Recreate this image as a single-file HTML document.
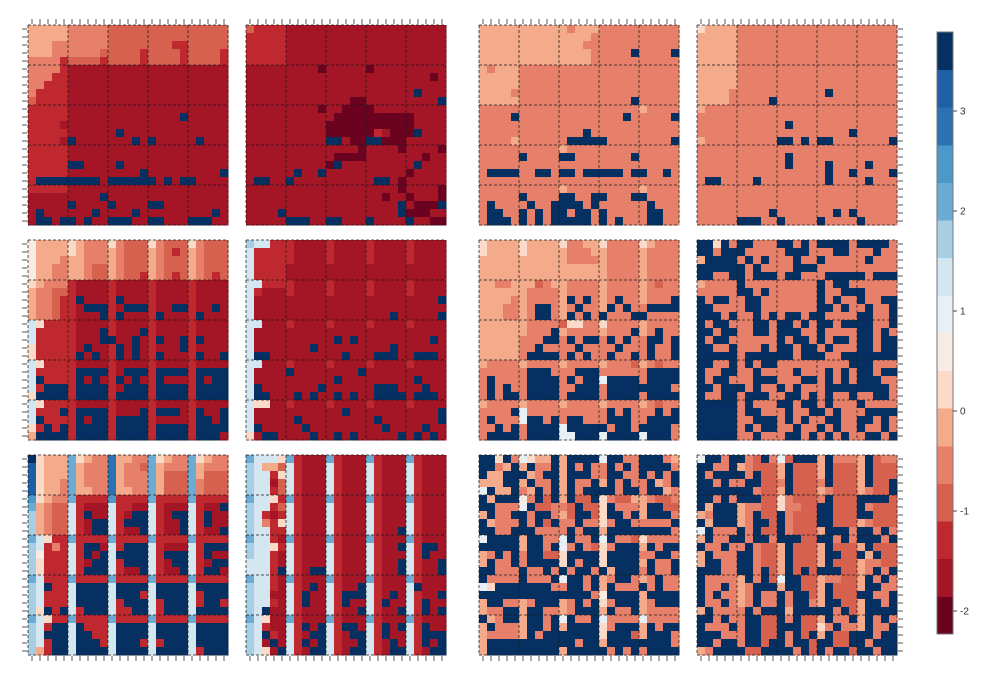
<!DOCTYPE html>
<html><head><meta charset="utf-8"><style>
html,body{margin:0;padding:0;background:#fff;}
svg{display:block;font-family:"Liberation Sans",sans-serif;}
</style></head><body>
<svg id="chart" width="992" height="682" viewBox="0 0 992 682"></svg>
<script>
// color level palette (index 0..15 from lowest to highest)
const levelColors = ["#6a0220","#a41526","#bf282f","#d6614e","#e6806a","#f4ab8b","#fbdac8","#f8ebe4","#e8eff5","#d4e6f0","#a8cee4","#6cacd4","#4c98c8","#2c72b3","#1f5fa6","#053061"];
const levelCodes = "0123456789abcdef";
const colorbarTicks = [3,2,1,0,-1,-2];

const p11 = ["55555 44444 33333 33333 33333","55555 44444 33333 33333 33333","55544 44444 33333 33322 33333","55544 44443 33332 33332 33332","44442 33332 33332 33332 33332","44442 11111 11111 11111 11111","44422 11111 11111 11111 11111","44222 11111 11111 11111 11111","42222 11111 11111 11111 11111","32222 11111 11111 11111 11111","22222 11111 11111 11111 11111","22222 11111 11111 1111f 11111","22221 11111 11111 11111 11111","22222 11111 1f111 11111 11111","22221 f1111 111f1 f1111 1f111","22222 11111 11111 11111 11111","22222 11111 11111 11111 11111","22222 ff111 1f111 11111 11111","22222 11111 1111f 11111 1111f","2ffff ffff1 fffff f1f1f f1111","22222 11111 11111 11111 11111","11111 1111f 11111 11111 11111","11111 f1111 f1111 ff111 11111","1f111 111f1 111f1 11111 111f1","1ff1f f1f11 fff11 ff111 fff11"];
const p12 = ["32222 11111 11111 11111 11111","22222 11111 11111 11111 11111","22222 11111 11111 11111 11111","22222 11111 11111 11111 11111","22222 11111 11111 11111 11111","11111 11110 11111 01111 11111","11111 11111 11111 11111 11101","11111 11111 11111 11111 11111","11111 11111 11111 11111 1f111","11111 11111 11100 11111 1111f","11111 11110 11000 01111 11111","11111 11111 10000 00000 01111","11111 11111 00000 00000 01111","11111 11111 00000 02100 0f111","11111 11111 ff100 ff000 11111","11111 11111 11110 11110 11110","11111 11111 10000 11111 11011","11111 11111 0f111 11111 1f111","11111 1f11f 11111 11111 01111","1ff11 f1111 11111 1ff10 11111","11111 11111 11111 11110 11110","11111 11111 11111 11011 01110","11111 11111 11111 1111f 1000f","1111f 11111 11111 1111f 00011","11111 fff11 ff111 f1111 f1100"];
const p13 = ["55555 55555 54555 44444 44444","55555 55555 55554 44444 44444","55555 55555 55544 44444 44444","55555 55555 55554 4444f 4444f","55555 55555 55554 44444 44444","54555 44444 44444 44444 44444","55555 44444 44444 44444 44444","55555 44444 44444 44444 44444","55554 44444 44444 44444 44444","55555 44444 44444 4444f 44444","44444 44444 44444 44444 54444","4444f 44444 44444 444f4 4444f","44444 44444 44444 44444 44444","44444 44444 444f4 44444 44444","44445 44444 4ffff f4444 4444f","44444 44444 54444 44444 44444","44444 f4444 ff444 4444f 44444","44444 44444 44444 44444 44444","4ffff 44ff4 ff4ff fff4f f44f4","44444 44444 44444 44444 44444","44444 44444 54444 44444 54444","44444 f4444 ff44f f444f f4444","4f444 4f44f fff4f 44444 4f444","4ff44 f4f4f f4ff4 f4444 4ff44","4fff4 f4f4f ffff4 f4f44 4ff44"];
const p14 = ["65555 44444 44444 44444 44444","55555 44444 44444 44444 44444","55555 44444 44444 44444 44444","55555 44444 44444 44444 44444","55555 44444 44444 44444 44444","55555 44444 44444 44444 44444","55555 44444 44444 44444 44444","55555 44444 44444 44444 44444","55554 44444 44444 4f444 44444","55554 4444f 44444 44444 44444","54444 44444 44444 44444 44444","44444 44444 44444 44444 44444","44444 44444 4f444 44444 44444","44444 44444 44444 4444f 44444","54444 44444 ff4f4 ff444 4444f","44444 44444 44444 44444 44444","44444 44444 4f444 44444 44444","44444 44444 4f444 4f444 4f444","44444 44444 44444 4f44f 4444f","4ff44 44f44 44444 4f444 4f444","44444 44444 44444 44444 44444","44444 44444 44444 44444 44444","44444 44444 44444 44444 44444","44444 4444f 44444 44f4f 44444","44444 fff44 f4444 f4444 f4444"];
const p21 = ["75555 65444 64333 64333 64333","75555 65444 54333 54323 54333","75554 55444 54333 54333 54333","75544 55433 54333 54333 54333","75544 55433 54332 54323 54323","65444 21111 21111 21111 21111","54433 21111 21111 21111 21111","54432 2f111 2f111 21111 21111","54432 21fff 21fff 211ff 211f1","54432 2111f 2f111 2f111 2f111","96222 21111 21111 21111 21111","92222 2111f 2111f 21111 21111","92222 2111f f11f1 2f11f 2f111","62222 21f11 2f1f1 2111f 21111","62222 2f1f1 2f1f1 2f111 2f11f","96222 21111 21111 21111 21111","92222 2ffff 21fff 2ffff 2ffff","9f222 2f1f1 2f1f1 2f111 2f1ff","92fff 2ffff 21fff 2ffff 2ffff","6ffff 2ffff 2ffff 2ffff 2ffff","96222 21111 21111 21111 21111","9222f 2ffff 2111f 2fff1 2f11f","9f222 2f1ff 2ffff 21111 2ff1f","62f2f 2ffff 2ffff 2ffff 2ffff","5ffff 2ffff 2ffff 2ffff 2fff1"];
const p22 = ["a9922 21111 21111 21111 21111","92222 21111 21111 21111 21111","92222 21111 21111 21111 21111","92222 11111 11111 11111 11111","92222 11111 11111 11111 11111","99222 21111 21111 21111 21111","92111 21111 21111 21111 21111","91111 11111 11111 11111 1111f","91111 11111 11111 11111 11111","91111 11111 11111 111f1 1111f","99111 21111 21111 21111 21111","91111 11111 11111 11111 11111","91111 11111 1f1f1 11111 111f1","91111 111f1 11111 111f1 11111","9ff11 11111 11f11 1fff1 1fff1","99111 21111 21111 21111 21111","91111 f1111 1111f 11111 11111","91111 11111 1f111 11111 1f111","9f111 1111f 11111 1fff1 11f11","9ff11 1f1f1 1f1f1 1ffff 1fff1","96611 21111 21111 21111 21111","91111 11111 11f11 11111 1111f","91111 1f111 11111 1f111 1111f","9f111 11f11 11111 11f11 11f11","61ff1 111f1 1f1f1 1111f 1f1f1"];
const p23 = ["65555 65555 64455 64444 65444","65555 65555 54445 54444 54444","55555 55555 54444 54444 54444","55555 55555 55555 54444 54444","55555 55555 55555 54444 54444","55445 55345 54444 54444 54344","55555 54444 54444 54444 54444","55554 54444 5f4f4 54f44 5444f","55544 54ff4 54f44 5f4f4 4ffff","55544 54ff4 5f4f4 f444f f4444","55555 54444 36644 64444 54444","55555 5444f 54444 5444f 54f44","55555 444ff 4f4ff 4f4f4 4ff4f","55555 44f44 44f44 44f44 4f44f","55555 4ffff 4f4f4 4f44f 4f44f","54444 54444 54444 54443 54344","44444 4fff4 44fff 44444 4ffff","4f444 4ffff 4f4ff 8ffff 4ffff","4f4f4 4ffff 44fff 4ffff ffff4","4f4ff 4ffff 4ffff 4ffff 4ffff","54444 54444 54444 54444 54344","4444f 84444 44444 4f4f4 44f4f","4f444 8ff4f 4ff44 4fff4 4ffff","44f4f 4ffff 8ffff f4ff4 ffff4","4ffff 4ffff 88fff 8ffff 8fff4"];
const p24 = ["ff6f4 ff444 ff4f4 ffff4 ffff4","ff4ff f4444 4fff4 44ff4 44f44","5ffff 4f4f4 44f44 f4444 4f444","fffff f4f44 44fff 44444 44444","ff44f f4fff 4ff44 4ffff f4fff","54444 f4444 44444 f4ff4 44444","44444 ff4f4 44444 f44ff f4444","f4ff4 4ff44 44444 f4f44 f44ff","ff444 4ff44 44444 ff4f4 4f44f","fff4f 44f4f 4ff4f f4444 ff44f","f4ff4 44ff4 ff4f4 ff4ff ff44f","ff4ff 44ff4 fff44 f4444 ff4f4","f4ff4 44444 f4ff4 f4ff4 ff4ff","ff44f 444f4 ff4ff 4f444 ff4ff","fffff 4ffff ff4ff f44ff fffff","ff44f 4f4ff 44444 4444f ff444","f44ff 44f44 44f44 4f4f4 ff4ff","f4ff4 44fff 444ff 4f4f4 fff44","ff4ff f4f44 f4f44 4ffff ffff4","f44ff 4fff4 4ff4f 4f44f 44ff4","fffff 4f444 ff4ff 4f444 f4444","fffff 4ff44 4f44f f4f44 4ffff","fffff 44fff 4f4f4 4ff44 ff4f4","fffff 4f4ff 44f44 f4f44 f44f4","fffff 44f44 4ff4f 4f4f4 4ff4f"];
const p31 = ["f6555 b6544 d5544 b6544 b6544","e6555 b5444 d5443 b5444 b5444","e6555 b5444 d5444 b5333 b5333","e6554 b5444 d5444 b5333 b4333","e6554 b5544 d5544 b5333 b4333","c6544 b2222 c2222 b2222 b2222","b5433 92111 92211 92111 9211f","a5433 92f11 921ff 921ff 92f11","a5433 921ff 92fff 9211f 92f11","a5433 921ff 9211f 9211f 9211f","b9622 b2222 b2222 b2222 b2222","a9242 92ff1 92fff 92111 92fff","a7222 92f1f 9ffff 92fff 92f11","a6222 921ff 92fff 921ff 921ff","a6222 92fff 9211f 9211f 92ff1","b9222 b2222 b2222 b2222 b2222","a9f22 9ffff 9ffff 9ffff 9ffff","a9222 9ffff 9fff2 9ffff 92fff","a9222 9ffff 92fff 92fff 92ff2","a6f2f 92fff 922ff 92fff 9ffff","b9622 b2222 b2222 b2222 b2222","a92ff 9f222 9ffff 9ffff 9ffff","a9fff 9ff22 9ffff 9ffff 9ffff","a92ff 9fff2 9fff2 92fff 9ffff","a52ff 9ffff 9ffff 9ffff 92fff"];
const p32 = ["b9996 b2111 b2111 b2111 b2111","a9553 92111 92111 92111 92111","a9926 92111 92111 92111 92111","a9913 92111 92111 92111 92111","a9923 92111 92111 92111 92111","b9962 b2111 b2111 b2111 b2111","a9923 92111 92111 92111 92111","a9212 92111 92111 92111 92111","a9426 92111 92111 92111 92111","a9922 92111 92111 9211f 92111","b9921 b2111 b2111 b2111 b2111","a9962 92111 92111 9211f 92ff1","a9921 92111 92111 92111 92f11","99921 92111 92111 9211f 9211f","9992f 921ff 92111 9211f 9211f","b9921 b2111 b2111 b2111 b2111","a9921 921f1 9211f 92111 9f111","a9911 92f11 92fff 921f1 9211f","a9921 92f11 92f11 92f11 92f11","a9f11 92111 9211f 9211f 92f1f","b9611 b2111 b2111 b2111 b2111","a9211 92f1f 92ff1 92f1f 92f11","a9f21 921ff 921ff 92f11 92fff","a91f1 92f1f 9211f 921f1 92f1f","a961f 921ff 921ff 921ff 921ff"];
const p33 = ["ff6f4 8655f 5ffff 8ff44 fff45","ff45f 5f44f 5f4f4 4f4f4 ffff4","f55ff f54ff 5fff4 4ff44 f4f4f","555ff 5f44f 5f44f 5f4f4 4f54f","8f55f 45f4f 5f4ff ff4ff 4ff54","f5fff 74f3f 5f33f 64335 54334","ff444 8f334 43f33 6f444 5ff33","5f44f f4ff4 53ff3 6ff4f 5fff4","f5444 f4f3f 44f44 64ff4 4444f","ff44f ff444 4f4ff 5ffff ffff4","8ffff 5ff44 8f44f 8f443 64444","fffff 5ff4f 84f43 64fff 5f4ff","54f4f 4ff33 6ffff 6ffff 44ff4","5f44f 4ffff 6f4ff 6ffff 5f44f","ff444 f44f4 f4ff4 f5fff 4f44f","f4444 f444f 8ff4f 54ff4 54f44","86fff ffff4 4ff4f 5f444 f4f44","fffff fffff ffff4 7ffff 5ffff","5ff44 54fff 54f4f 64fff 54fff","544ff 5ff44 54fff 5f44f 54444","f54ff 5ff4f 8f44f 84444 84444","5f444 5ff4f 5ffff 64fff 5f4ff","54444 5f4ff fffff 6fff3 5fff4","5ffff fffff ff4ff 5ffff ffff4","5ffff fffff 5ffff f4f4f 4ffff"];
const p34 = ["8ff4f f43f4 83fff 5f444 5f344","ff44f 54333 5f333 5f333 5f333","f4fff f4f33 5f333 5f333 5f333","ff4f4 4ff33 4f333 4f333 5f33f","fffff ff433 5f333 54333 5433f","ff4f4 fff33 64333 4f333 ffff3","f5fff 54433 64433 ff333 f4333","54fff 54f33 f4333 ff333 ff333","f5fff 54ff3 f4333 ff333 54333","8f444 f4f33 f4333 5fff4 ff4f4","5f44f f4ff4 fff33 ff4f4 fff4f","f44f4 4f433 5f333 5f333 5f333","5f444 ff433 5f333 5ff33 f5f33","5ff44 ff433 5f333 5f333 54433","fff44 ff4f3 5f3f3 fff33 54f4f","f4444 5f4f3 8ff33 54433 5f4f4","f44f4 54fff 5ff33 5f333 5ff44","f4f44 54f44 f4ff3 5f333 ff44f","f44f4 54f44 f4ff4 5ff33 5ff4f","5f444 4f4ff f5fff ff4f3 5ffff","ff4f4 4ff33 f4f33 5f44f 5f4f4","f444f 4ff33 fff33 64f44 5f44f","fff44 4ff33 f4f3f 5f33f ff4ff","ff4ff 4ff3f f4ff3 ff33f f4fff","54fff f33ff ff4f3 f4ff3 ff4ff"];

const panels = [[p11,p12,p13,p14],[p21,p22,p23,p24],[p31,p32,p33,p34]];

const NS = "http://www.w3.org/2000/svg";
const svg = document.getElementById("chart");
const colX = [28,246,479,697], rowY = [25,240,455], N = 25, SIZE = 200, CELL = SIZE / N;
function mk(tag, attrs, parent){ const e = document.createElementNS(NS, tag); for (const k in attrs) e.setAttribute(k, attrs[k]); (parent||svg).appendChild(e); return e; }
function xScale(px, c){ return px + c * CELL; }
function yScale(py, r){ return py + r * CELL; }

panels.forEach((row, ri) => row.forEach((data, ci) => {
  const g = mk("g", {});
  
  
  const px = colX[ci], py = rowY[ri];
  data.forEach((rowStr, r) => {
    const s = rowStr.replace(/ /g, "");
    for (let c = 0; c < N; c++) {
      const lv = levelCodes.indexOf(s[c] || "4");
      const rect = mk("rect", {x: xScale(px,c), y: yScale(py,r), width: CELL+0.3, height: CELL+0.3, fill: levelColors[lv < 0 ? 4 : lv], "shape-rendering": "crispEdges"}, g);
      
      
    }
  });
  for (let k = 0; k <= N; k += 5) {
    const v = mk("line", {x1: xScale(px,k), x2: xScale(px,k), y1: py, y2: py+SIZE, stroke: "#1a1a1a", "stroke-width": 1, "stroke-dasharray": "3,2", opacity: 0.75}, g);
    
    
    const h = mk("line", {x1: px, x2: px+SIZE, y1: yScale(py,k), y2: yScale(py,k), stroke: "#1a1a1a", "stroke-width": 1, "stroke-dasharray": "3,2", opacity: 0.75}, g);
    
    
  }
  // ticks
  for (let k = 0; k < N; k++) {
    const cx = xScale(px, k) + CELL/2, cy = yScale(py, k) + CELL/2;
    if (ri === 0) { const t = mk("line", {x1: cx, x2: cx, y1: py-6, y2: py-1, stroke: "#555", "stroke-width": 1}, g);   }
    if (ri === 2) { const t = mk("line", {x1: cx, x2: cx, y1: py+SIZE+1, y2: py+SIZE+6, stroke: "#555", "stroke-width": 1}, g);   }
    if (ci === 0) { const t = mk("line", {x1: px-6, x2: px-1, y1: cy, y2: cy, stroke: "#555", "stroke-width": 1}, g);   }
    if (ci === 3) { const t = mk("line", {x1: px+SIZE+1, x2: px+SIZE+6, y1: cy, y2: cy, stroke: "#555", "stroke-width": 1}, g);   }
  }
}));

// colorbar
const cb = mk("g", {});


const cbX = 937, cbTop = 32, cbBot = 634, cbW = 16;
const segH = (cbBot - cbTop) / levelColors.length;
for (let i = 0; i < levelColors.length; i++) {
  const r = mk("rect", {x: cbX, y: cbBot - (i+1)*segH, width: cbW, height: segH+0.4, fill: levelColors[i], "shape-rendering": "crispEdges"}, cb);
  
  
}
const border = mk("rect", {x: cbX, y: cbTop, width: cbW, height: cbBot-cbTop, fill: "none", stroke: "#777", "stroke-width": 1}, cb);


function cbScale(v){ return 411 - 100 * v; }
colorbarTicks.forEach(v => {
  const y = cbScale(v);
  const t = mk("line", {x1: cbX+cbW, x2: cbX+cbW+4, y1: y, y2: y, stroke: "#444", "stroke-width": 1}, cb);
  
  
  const tx = mk("text", {x: cbX+cbW+7, y: y+3.5, "font-size": 10, fill: "#333"}, cb);
  tx.textContent = String(v);
  
  
});
</script>
</body></html>
